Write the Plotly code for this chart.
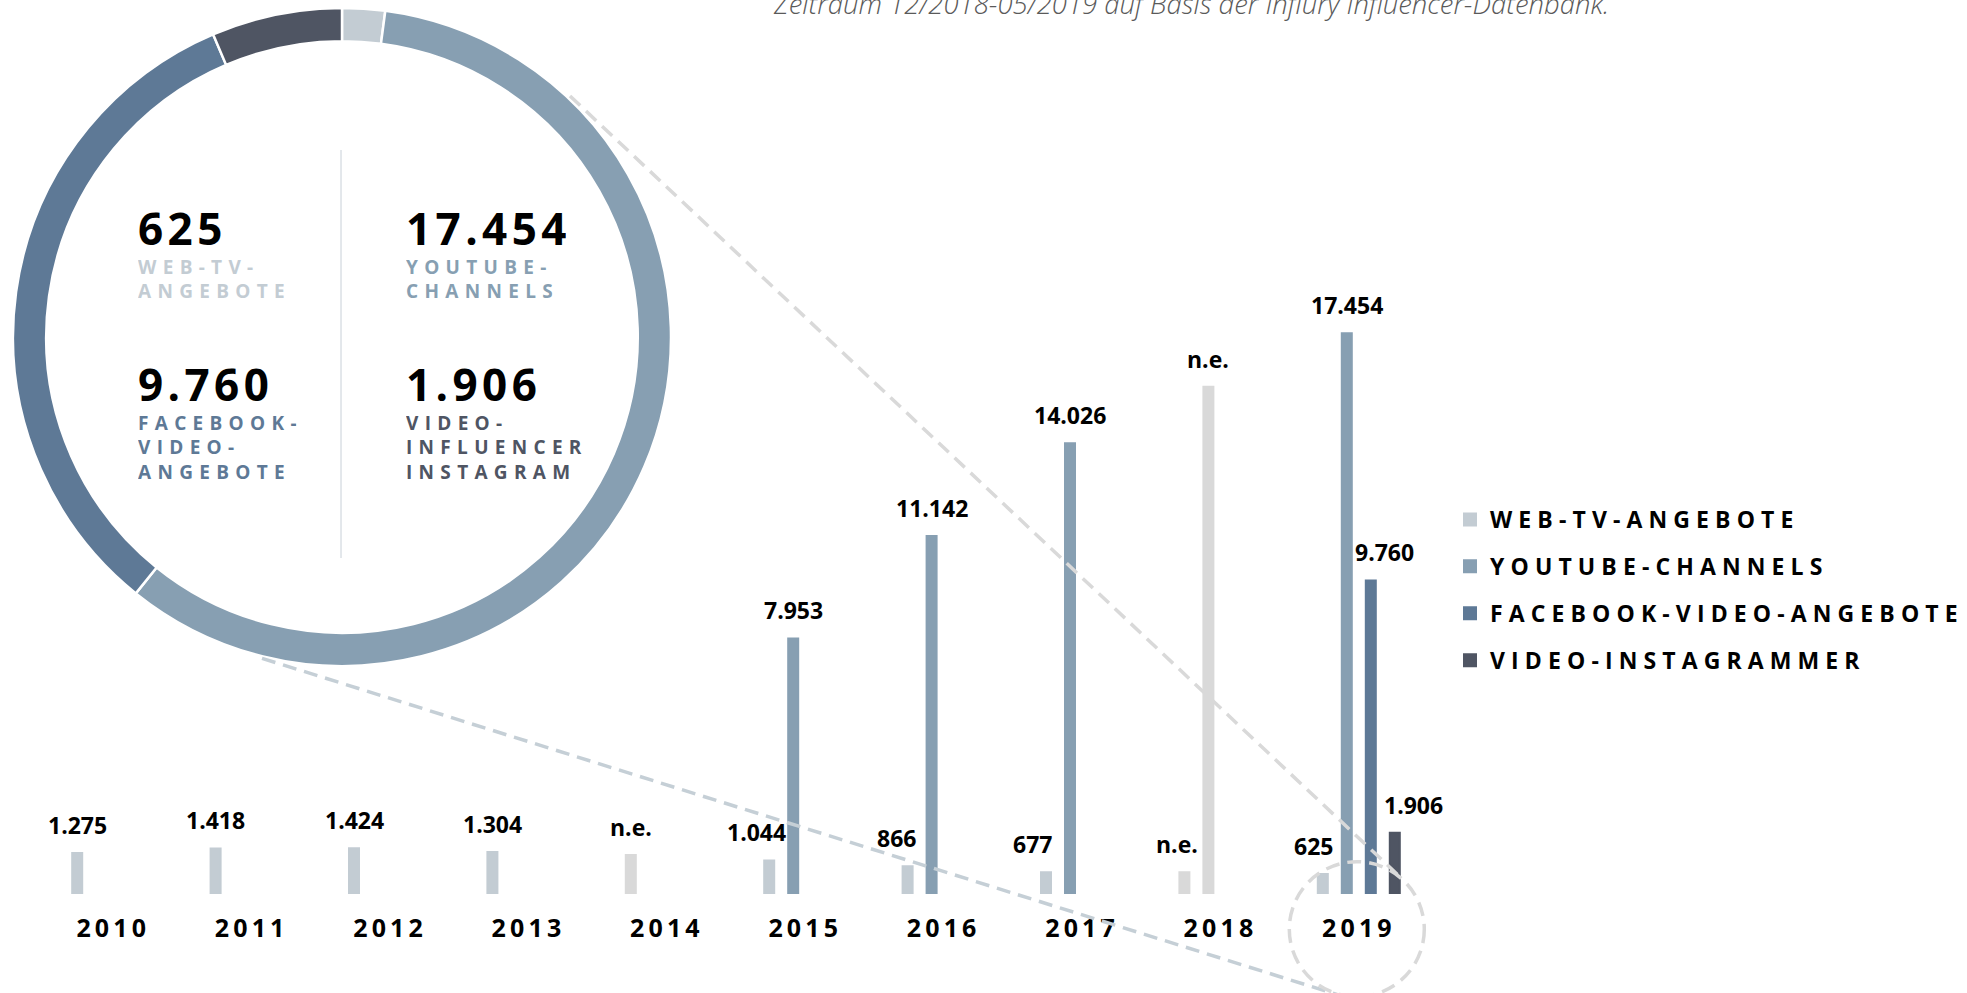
import plotly.graph_objects as go

W, H = 1967, 993

# ---------------- data ----------------
years = ["2010", "2011", "2012", "2013", "2014", "2015", "2016", "2017", "2018", "2019"]
web_tv = [1275, 1418, 1424, 1304, None, 1044, 866, 677, None, 625]
youtube = [None, None, None, None, None, 7953, 11142, 14026, None, 17454]
facebook = [None, None, None, None, None, None, None, None, None, 9760]
instagram = [None, None, None, None, None, None, None, None, None, 1906]
# grey "n.e." (nicht erhoben) placeholder bars, heights
ne_web_tv = [None, None, None, None, 1210, None, None, None, 680, None]
ne_youtube = [None, None, None, None, None, None, None, None, 15790, None]

series_names = ["WEB-TV-ANGEBOTE", "YOUTUBE-CHANNELS", "FACEBOOK-VIDEO-ANGEBOTE", "VIDEO-INSTAGRAMMER"]
donut_labels = ["WEB-TV-<br>ANGEBOTE", "YOUTUBE-<br>CHANNELS", "FACEBOOK-<br>VIDEO-<br>ANGEBOTE",
                "VIDEO-<br>INFLUENCER<br>INSTAGRAM"]
title_text = "Zeitraum 12/2018-05/2019 auf Basis der Influry Influencer-Datenbank."

# ---------------- styles ----------------
C_WEB = "#c3ccd3"
C_YT = "#879fb2"
C_FB = "#5e7996"
C_IG = "#4f5563"
C_NE = "#d9d9d9"
colors = [C_WEB, C_YT, C_FB, C_IG]
FONT = "Open Sans"

def px(x):
    return x / W

def py(y):
    return 1 - y / H

def spaced(s, sep):
    out = []
    for part in s.split("<br>"):
        out.append(sep.join(list(part)))
    return "<br>".join(out)

def fmt(v):
    return f"{v:,}".replace(",", ".")

THIN = "\u2009"
HAIR = "\u200a"

fig = go.Figure()

# ---------------- donut (2019 values) ----------------
vals_2019 = [web_tv[-1], youtube[-1], facebook[-1], instagram[-1]]
cx, cy, R = 342, 337, 329
fig.add_trace(go.Pie(
    values=vals_2019, labels=series_names, sort=False, direction="clockwise", rotation=0,
    hole=0.899, textinfo="none", hoverinfo="label+value", showlegend=False,
    marker=dict(colors=colors, line=dict(color="white", width=2.5)),
    domain=dict(x=[px(cx - R), px(cx + R)], y=[py(cy + R), py(cy - R)]),
))

# ---------------- bars ----------------
slot_px = 24.0
groups = ["g1", "g2", "g3", "g4"]
bar_series = [web_tv, youtube, facebook, instagram]
for i, (vals, name) in enumerate(zip(bar_series, series_names)):
    fig.add_trace(go.Bar(
        x=years, y=vals, name=spaced(name, THIN + HAIR), offsetgroup=groups[i],
        legendgroup=groups[i], marker=dict(color=colors[i], line=dict(width=2, color=colors[i])),
    ))
for gi, vals in [(0, ne_web_tv), (1, ne_youtube)]:
    fig.add_trace(go.Bar(
        x=years, y=vals, name="n.e.", offsetgroup=groups[gi], showlegend=False,
        marker=dict(color=C_NE, line=dict(width=2, color=C_NE)),
    ))

# ---------------- value labels ----------------
nudges = [
    [0, 0, 0, 0, 0, -13, -11, -14, -7, -9],
    [0] * 10,
    [0] * 9 + [14],
    [0] * 9 + [19],
]
annotations = []
for i, vals in enumerate(bar_series):
    ne_vals = ne_web_tv if i == 0 else (ne_youtube if i == 1 else [None] * 10)
    for j, yr in enumerate(years):
        v = vals[j]
        if v is not None:
            txt, yv = fmt(v), v
        elif ne_vals[j] is not None:
            txt, yv = "n.e.", ne_vals[j]
        else:
            continue
        annotations.append(dict(
            x=j, y=yv, xref="x", yref="y", text=txt, showarrow=False,
            xanchor="center", yanchor="bottom",
            xshift=(i - 1.5) * slot_px + nudges[i][j], yshift=10,
            font=dict(family=FONT, size=23, color="#000000", weight="bold"),
        ))

# ---------------- donut texts ----------------
big = [fmt(v) for v in vals_2019]
pos = [(136, 228, 279), (404, 228, 279), (136, 383.5, 448), (404, 383.5, 448)]
for k in range(4):
    x0, ynum, ylab = pos[k]
    n_lines = donut_labels[k].count("<br>") + 1
    annotations.append(dict(
        x=px(x0), y=py(ynum), xref="paper", yref="paper", xanchor="left", yanchor="middle",
        text=spaced(big[k], HAIR), showarrow=False, height=44, valign="middle",
        font=dict(family=FONT, size=44, color="#000000", weight="bold"),
    ))
    annotations.append(dict(
        x=px(x0), y=py(ylab), xref="paper", yref="paper", xanchor="left", yanchor="middle",
        text=spaced(donut_labels[k], THIN + THIN), showarrow=False, align="left",
        height=n_lines * 25 + 2, valign="middle",
        font=dict(family=FONT, size=19, color=colors[k], weight="bold"),
    ))

# ---------------- title (cut at the top, as in the original) ----------------
annotations.append(dict(
    x=px(771), y=py(24), xref="paper", yref="paper", xanchor="left", yanchor="bottom",
    text=title_text, showarrow=False,
    font=dict(family=FONT, size=27.5, color="#5a5a5a", style="italic", weight=300),
))

# ---------------- decorative shapes ----------------
DASH = "14px,8px"
shapes = [
    dict(type="line", xref="paper", yref="paper", x0=px(341), x1=px(341), y0=py(150), y1=py(558),
         line=dict(color="#c8d0d8", width=1), layer="above"),
    dict(type="line", xref="paper", yref="paper", x0=px(570), y0=py(96), x1=px(1398), y1=py(875),
         line=dict(color="#d9d9d9", width=3.5, dash=DASH), layer="above"),
    dict(type="line", xref="paper", yref="paper", x0=px(262), y0=py(658.3), x1=px(1350), y1=py(998.6),
         line=dict(color="#c5cfd6", width=3.5, dash=DASH), layer="above"),
    dict(type="circle", xref="paper", yref="paper", x0=px(1289.3), x1=px(1424.3), y0=py(861.7), y1=py(996.7),
         line=dict(color="#d9d9d9", width=3.5, dash=DASH), layer="above"),
]

baseline = 894
px_per_unit = 0.03213
fig.update_layout(
    width=W, height=H, margin=dict(l=0, r=0, t=0, b=0),
    paper_bgcolor="white", plot_bgcolor="white",
    barmode="group", bargap=0.3064, bargroupgap=0.583,
    xaxis=dict(type="category", range=[-0.5, 9.5], domain=[px(44), px(1428)],
               showgrid=False, zeroline=False, showline=False, ticks="",
               tickvals=years, ticktext=[spaced(y, THIN) for y in years],
               tickfont=dict(family=FONT, size=25, color="#000000", weight="bold"),
               ticklabelstandoff=17, ticklabelshift=-2),
    yaxis=dict(visible=False, range=[0, baseline / px_per_unit], domain=[py(baseline), 1],
               showgrid=False, zeroline=False),
    legend=dict(x=px(1450), y=py(498), xanchor="left", yanchor="top", orientation="v",
                font=dict(family=FONT, size=23, color="#000000", weight="bold"),
                tracegroupgap=14, bgcolor="rgba(0,0,0,0)", itemclick=False),
    annotations=annotations, shapes=shapes,
    font=dict(family=FONT),
)

fig.write_html("out.html", config={"displayModeBar": False},
               post_script="document.body.style.margin='0px';")
